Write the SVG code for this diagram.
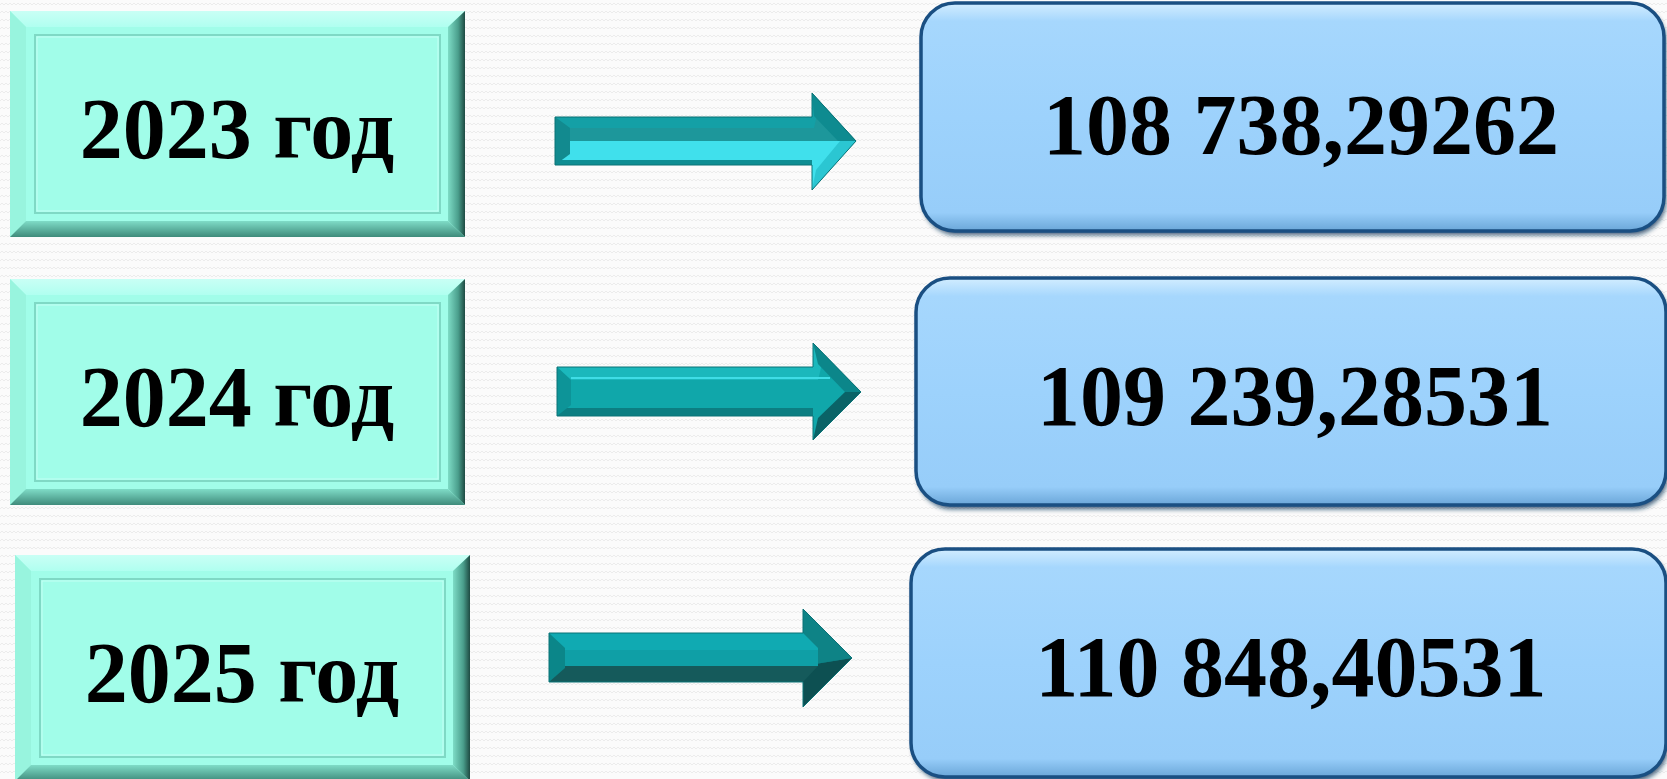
<svg xmlns="http://www.w3.org/2000/svg" width="1667" height="779" viewBox="0 0 1667 779">
<defs>
  <pattern id="bgWave" width="8" height="8" patternUnits="userSpaceOnUse">
    <rect width="8" height="8" fill="#fbfbfb"/>
    <path d="M0,5 L2,3 L4,5 L6,3 L8,5" fill="none" stroke="#ececec" stroke-width="1"/>
  </pattern>
  <linearGradient id="gTop" x1="0" y1="0" x2="0" y2="1">
    <stop offset="0" stop-color="#c9fff5"/>
    <stop offset="1" stop-color="#b0fff0"/>
  </linearGradient>
  <linearGradient id="gRight" x1="0" y1="0" x2="1" y2="0">
    <stop offset="0" stop-color="#7edcc6"/>
    <stop offset="0.6" stop-color="#4a9e8c"/>
    <stop offset="1" stop-color="#1e4a42"/>
  </linearGradient>
  <linearGradient id="gBottom" x1="0" y1="0" x2="0" y2="1">
    <stop offset="0" stop-color="#7fdcc7"/>
    <stop offset="1" stop-color="#3f8b7b"/>
  </linearGradient>
  <linearGradient id="gBlue" x1="0" y1="0" x2="0" y2="1">
    <stop offset="0" stop-color="#d2edff"/>
    <stop offset="0.08" stop-color="#a6d7fd"/>
    <stop offset="0.5" stop-color="#9dd2fc"/>
    <stop offset="0.92" stop-color="#97cdf9"/>
    <stop offset="1" stop-color="#6aa6d8"/>
  </linearGradient>
  <filter id="shadow" x="-5%" y="-5%" width="110%" height="120%">
    <feGaussianBlur stdDeviation="2.5"/>
  </filter>
  <style>
    .lbl{font-family:"Liberation Serif","Times New Roman",serif;font-weight:bold;font-size:86px;fill:#000;text-anchor:middle}
    .face{fill:#a1fde9}
    .lbev{fill:#98f4de}
    .inset{fill:none;stroke:#7fd9c5;stroke-width:2}
    .insetHi{fill:none;stroke:#c3fff4;stroke-width:1}
    .rbox{fill:url(#gBlue);stroke:#1a4f82;stroke-width:3.5}
    .rshadow{fill:#0d3558;opacity:0.8}
    .aout{fill:none;stroke:#0a7276;stroke-width:1}
  </style>
  <g id="leftBox">
    <rect x="0" y="0" width="455" height="226" class="face"/>
    <polygon points="0,0 455,0 438,16 16,16" fill="url(#gTop)"/>
    <polygon points="0,0 16,16 16,210 0,226" class="lbev"/>
    <polygon points="455,0 455,226 438,210 438,16" fill="url(#gRight)"/>
    <polygon points="0,226 16,210 438,210 455,226" fill="url(#gBottom)"/>
    <rect x="25" y="24" width="405" height="178" class="inset"/>
    <rect x="27" y="26" width="401" height="174" class="insetHi"/>
  </g>
</defs>

<rect x="0" y="0" width="1667" height="779" fill="url(#bgWave)"/>

<g id="year2023">
  <use href="#leftBox" x="10" y="11"/>
  <text class="lbl" x="237" y="158">2023 год</text>
</g>
<g id="year2024">
  <use href="#leftBox" x="10" y="279"/>
  <text class="lbl" x="237" y="426">2024 год</text>
</g>
<g id="year2025">
  <use href="#leftBox" x="15" y="555"/>
  <text class="lbl" x="242" y="702">2025 год</text>
</g>

<g id="value2023">
  <rect x="923" y="7" width="743" height="228" rx="34" class="rshadow" filter="url(#shadow)"/>
  <rect x="921" y="3" width="743" height="228" rx="34" class="rbox"/>
  <text class="lbl" x="1301" y="154">108 738,29262</text>
</g>
<g id="value2024">
  <rect x="918" y="282" width="750" height="227" rx="34" class="rshadow" filter="url(#shadow)"/>
  <rect x="916" y="278" width="750" height="227" rx="34" class="rbox"/>
  <text class="lbl" x="1295" y="425">109 239,28531</text>
</g>
<g id="value2025">
  <rect x="913" y="553" width="755" height="228" rx="34" class="rshadow" filter="url(#shadow)"/>
  <rect x="911" y="549" width="755" height="228" rx="34" class="rbox"/>
  <text class="lbl" x="1291" y="696">110 848,40531</text>
</g>

<g id="connectors">
  <g id="arrow1">
    <polygon points="555,117 812,117 812,93 856,141 812,190 812,165 555,165" fill="#40e0ec"/>
    <polygon points="555,117 812,117 812,93 856,141 555,141" fill="#1d979b"/>
    <polygon points="555,117 812,117 812,93 820,102 814,128 570,128" fill="#14a0a6"/>
    <polygon points="812,93 856,141 838,141 814,116" fill="#0e8b90"/>
    <polygon points="555,160 812,160 812,165 555,165" fill="#0e8d92"/>
    <polygon points="812,190 856,141 840,141 816,170" fill="#2bc6d2"/>
    <polygon points="555,117 570,128 570,154 555,165" fill="#128a8f"/>
    <polygon points="555,117 812,117 812,93 856,141 812,190 812,165 555,165" class="aout"/>
  </g>
  <g id="arrow2">
    <polygon points="557,367 813,367 813,343 861,392 813,440 813,416 557,416" fill="#10a7aa"/>
    <polygon points="557,367 813,367 813,343 824,356 818,380 571,380" fill="#1bb8bc"/>
    <line x1="571" y1="378" x2="830" y2="378" stroke="#3fdde6" stroke-width="2"/>
    <polygon points="813,343 861,392 845,392 818,364" fill="#0c868a"/>
    <polygon points="813,440 861,392 845,392 818,418" fill="#0a6367"/>
    <polygon points="557,408 813,408 813,416 557,416" fill="#0c7e82"/>
    <polygon points="557,367 571,380 571,405 557,416" fill="#0d9498"/>
    <polygon points="557,367 813,367 813,343 861,392 813,440 813,416 557,416" class="aout"/>
  </g>
  <g id="arrow3">
    <polygon points="549,633 803,633 803,609 852,658 803,707 803,682 549,682" fill="#10aab2"/>
    <polygon points="803,609 852,658 803,666" fill="#0e8386"/>
    <polygon points="803,666 852,658 803,707" fill="#0d5052"/>
    <polygon points="549,633 803,633 818,648 818,666 549,666" fill="#10aab2"/>
    <polygon points="565,650 818,650 818,666 565,666" fill="#0f9fa6"/>
    <polygon points="549,666 818,666 803,682 549,682" fill="#155a5b"/>
    <polygon points="549,633 565,648 565,668 549,682" fill="#0b8689"/>
    <polygon points="549,633 803,633 803,609 852,658 803,707 803,682 549,682" class="aout"/>
  </g>
</g>
</svg>
